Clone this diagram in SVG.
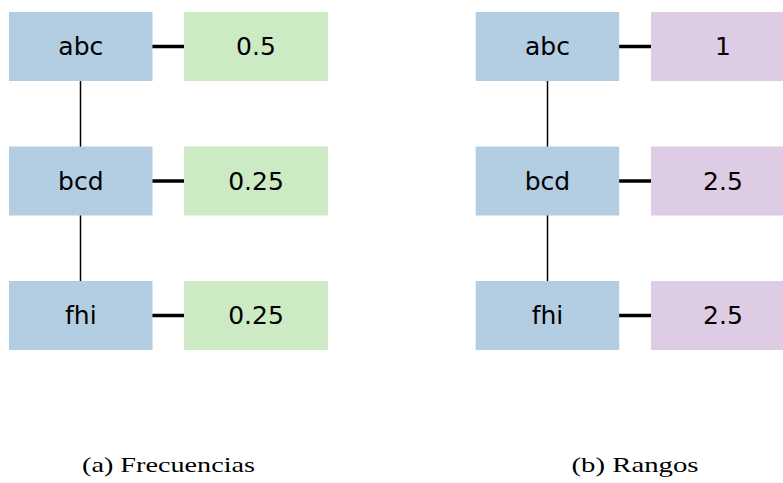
<svg xmlns="http://www.w3.org/2000/svg" width="783" height="483" viewBox="0 0 783 483">
<style>
.k{fill:#b3cde3}.g{fill:#ccebc5}.p{fill:#decbe4}
.t{font-family:"DejaVu Sans",sans-serif;font-size:25px;text-anchor:middle;fill:#000}
.c{font-family:"Liberation Serif",serif;font-size:22px;text-anchor:middle;fill:#000}
.h{stroke:#000;stroke-width:3.5}.v{stroke:#000;stroke-width:1.5}
</style>
<rect width="783" height="483" fill="#fff"/>
<g id="connectors">
<line class="v" x1="80.5" y1="81" x2="80.5" y2="147"/>
<line class="v" x1="80.5" y1="215" x2="80.5" y2="281"/>
<line class="h" x1="152" y1="46.5" x2="184" y2="46.5"/>
<line class="h" x1="152" y1="181" x2="184" y2="181"/>
<line class="h" x1="152" y1="315.5" x2="184" y2="315.5"/>
<line class="v" x1="547.5" y1="81" x2="547.5" y2="147"/>
<line class="v" x1="547.5" y1="215" x2="547.5" y2="281"/>
<line class="h" x1="619" y1="46.5" x2="651" y2="46.5"/>
<line class="h" x1="619" y1="181" x2="651" y2="181"/>
<line class="h" x1="619" y1="315.5" x2="651" y2="315.5"/>
</g>
<g id="a-abc"><rect class="k" x="9" y="12" width="143.5" height="69"/><text class="t" x="80.8" y="55">abc</text></g>
<g id="a-bcd"><rect class="k" x="9" y="146.5" width="143.5" height="69"/><text class="t" x="80.8" y="189.5">bcd</text></g>
<g id="a-fhi"><rect class="k" x="9" y="281" width="143.5" height="69"/><text class="t" x="80.8" y="324">fhi</text></g>
<g id="a-v1"><rect class="g" x="184" y="12" width="144" height="69"/><text class="t" x="256" y="55">0.5</text></g>
<g id="a-v2"><rect class="g" x="184" y="146.5" width="144" height="69"/><text class="t" x="256" y="189.5">0.25</text></g>
<g id="a-v3"><rect class="g" x="184" y="281" width="144" height="69"/><text class="t" x="256" y="324">0.25</text></g>
<g id="b-abc"><rect class="k" x="475.7" y="12" width="143.5" height="69"/><text class="t" x="547.5" y="55">abc</text></g>
<g id="b-bcd"><rect class="k" x="475.7" y="146.5" width="143.5" height="69"/><text class="t" x="547.5" y="189.5">bcd</text></g>
<g id="b-fhi"><rect class="k" x="475.7" y="281" width="143.5" height="69"/><text class="t" x="547.5" y="324">fhi</text></g>
<g id="b-v1"><rect class="p" x="651" y="12" width="144" height="69"/><text class="t" x="723" y="55">1</text></g>
<g id="b-v2"><rect class="p" x="651" y="146.5" width="144" height="69"/><text class="t" x="723" y="189.5">2.5</text></g>
<g id="b-v3"><rect class="p" x="651" y="281" width="144" height="69"/><text class="t" x="723" y="324">2.5</text></g>
<text class="c" x="168.5" y="472" textLength="173" lengthAdjust="spacingAndGlyphs">(a) Frecuencias</text>
<text class="c" x="635" y="472" textLength="127" lengthAdjust="spacingAndGlyphs">(b) Rangos</text>
</svg>
